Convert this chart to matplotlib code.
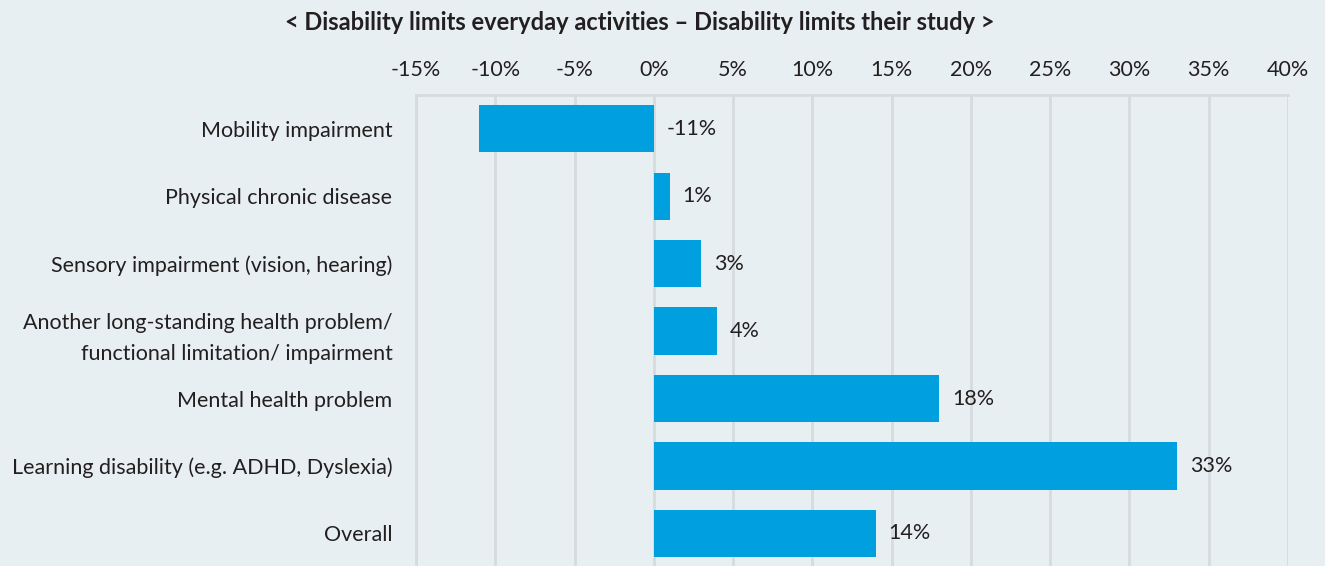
import matplotlib.pyplot as plt
from matplotlib.ticker import FuncFormatter

categories = ['Mobility impairment',
              'Physical chronic disease',
              'Sensory impairment (vision, hearing)',
              'Another long-standing health problem/\nfunctional limitation/ impairment',
              'Mental health problem',
              'Learning disability (e.g. ADHD, Dyslexia)',
              'Overall']
values = [-11, 1, 3, 4, 18, 33, 14]
ticks = [-15, -10, -5, 0, 5, 10, 15, 20, 25, 30, 35, 40]

bg = '#e8eff2'
blue = '#009fe0'
grid = '#d6dbde'
txt = '#231f20'

plt.rcParams['font.family'] = ['Lato', 'DejaVu Sans']

fig = plt.figure(figsize=(13.25, 5.66), dpi=100, facecolor=bg)
ax = fig.add_axes([416/1325, -0.002, 872/1325, 1 - 95/566 + 0.002])
ax.set_facecolor(bg)

y = list(range(len(categories)))
ax.barh(y, values, height=0.7, color=blue, zorder=3)
for yi, v in zip(y, values):
    ax.text(max(v, 0) + 0.8, yi, f'{v}%', va='center', ha='left',
            fontsize=15.5, color=txt, zorder=4)

ax.set_xlim(-15, 40)
ax.set_ylim(len(categories) - 0.5, -0.5)
ax.set_xticks(ticks)
ax.xaxis.set_major_formatter(FuncFormatter(lambda v, p: f'{v:.0f}%'))
ax.xaxis.tick_top()
ax.tick_params(axis='x', length=0, pad=11, labelsize=15.5, colors=txt)
ax.set_yticks(y)
ax.set_yticklabels(categories, fontsize=15.5, color=txt, linespacing=1.7)
ax.tick_params(axis='y', length=0, pad=17)
ax.grid(axis='x', color=grid, linewidth=2, zorder=0)
for s in ['bottom', 'right']:
    ax.spines[s].set_visible(False)
for s in ['top', 'left']:
    ax.spines[s].set_color(grid)
    ax.spines[s].set_linewidth(2)

fig.text(640/1325, 1 - 22/566, '< Disability limits everyday activities \u2013 Disability limits their study >',
         ha='center', va='center', fontsize=17, fontweight='bold', color=txt)

fig.savefig('out.png', dpi=100, facecolor=bg)
